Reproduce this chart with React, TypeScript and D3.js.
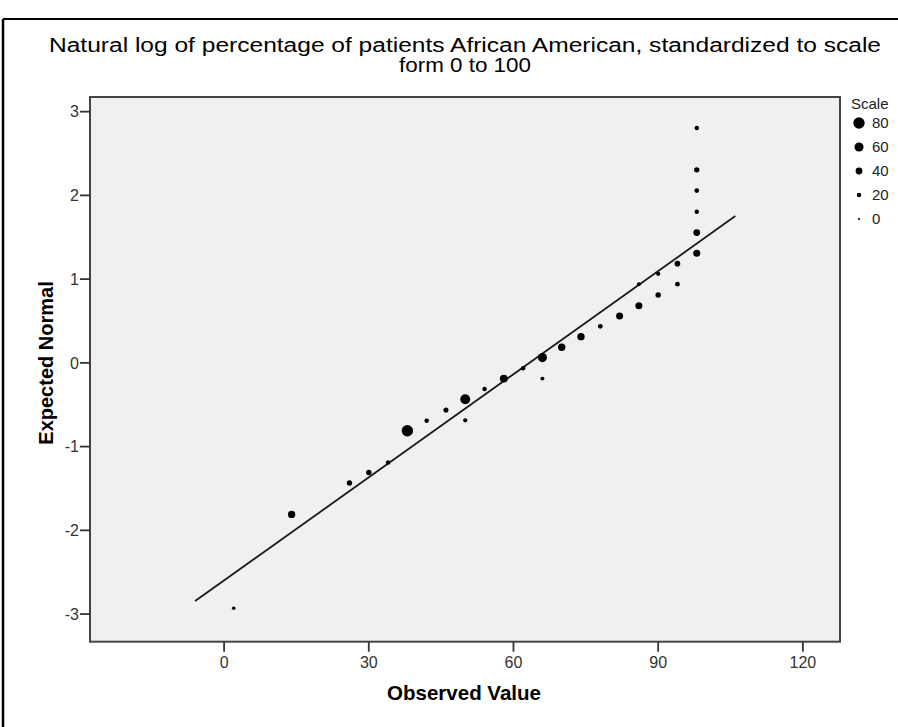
import React from "react";
import * as d3 from "d3";

// Observed values, expected normal scores and the "Scale" size of each point
const observed = [2, 14, 26, 30, 34, 38, 42, 46, 50, 50, 54, 58, 62, 66, 66, 70, 74, 78, 82, 86, 86, 90, 90, 94, 94, 98, 98, 98, 98, 98, 98];
const expected = [-2.93, -1.81, -1.435, -1.31, -1.19, -0.81, -0.69, -0.563, -0.435, -0.686, -0.312, -0.188, -0.065, 0.063, -0.188, 0.186, 0.313, 0.437, 0.56, 0.683, 0.94, 0.81, 1.064, 0.94, 1.185, 1.31, 1.556, 1.806, 2.057, 2.305, 2.806];
const scaleValue = [12, 45, 28, 28, 20, 80, 20, 25, 67, 18, 20, 50, 20, 60, 15, 45, 45, 22, 42, 42, 15, 28, 18, 22, 30, 42, 40, 20, 22, 28, 20];

// Normal reference line: z = (x - mean) / sd over the drawn extent
const refMean = 63.3;
const refSd = 24.36;
const refExtent = [-6, 106];

const xTicks = [0, 30, 60, 90, 120];
const yTicks = [-3, -2, -1, 0, 1, 2, 3];
const legendValues = [80, 60, 40, 20, 0];

const W = 898;
const H = 727;
const plot = { left: 90, right: 840, top: 97, bottom: 641.7 };
const font = "'Liberation Sans', Arial, Helvetica, sans-serif";

export default function App() {
  const x = d3.scaleLinear().domain([-27.8, 127.7]).range([plot.left, plot.right]);
  const y = d3.scaleLinear().domain([-3.33, 3.175]).range([plot.bottom, plot.top]);
  const r = d3.scaleLinear().domain([0, 80]).range([1.1, 5.7]);

  const points = observed.map((o, i) => ({ o, e: expected[i], s: scaleValue[i] }));
  const line = d3
    .line<number>()
    .x((v) => x(v))
    .y((v) => y((v - refMean) / refSd));

  return (
    <svg
      width={W}
      height={H}
      viewBox={`0 0 ${W} ${H}`}
      style={{ position: "absolute", left: 0, top: 0, background: "#fff" }}
      fontFamily={font}
    >
      {/* outer frame */}
      <line x1={3} y1={19} x2={3} y2={H} stroke="#000" strokeWidth={2.5} />
      <line x1={3} y1={19} x2={W} y2={19} stroke="#000" strokeWidth={2} />

      {/* title */}
      <text x={465} y={52} textAnchor="middle" fontSize={20} fill="#000" textLength={832} lengthAdjust="spacingAndGlyphs">
        Natural log of percentage of patients African American, standardized to scale
      </text>
      <text x={465} y={72} textAnchor="middle" fontSize={20} fill="#000" textLength={132} lengthAdjust="spacingAndGlyphs">
        form 0 to 100
      </text>

      {/* plot background */}
      <rect
        x={plot.left}
        y={plot.top}
        width={plot.right - plot.left}
        height={plot.bottom - plot.top}
        fill="#f0f0f0"
        stroke="#444"
        strokeWidth={2}
      />

      {/* reference line */}
      <path d={line(refExtent) ?? ""} fill="none" stroke="#1a1a1a" strokeWidth={1.8} />

      {/* points */}
      {points.map((p, i) => (
        <circle key={i} cx={x(p.o)} cy={y(p.e)} r={r(p.s)} fill="#000" />
      ))}

      {/* y axis */}
      {yTicks.map((t) => (
        <g key={`y${t}`}>
          <line x1={plot.left - 10} x2={plot.left} y1={y(t)} y2={y(t)} stroke="#333" strokeWidth={1.8} />
          <text x={plot.left - 11} y={y(t)} dy="0.36em" textAnchor="end" fontSize={16} fill="#333">
            {t}
          </text>
        </g>
      ))}

      {/* x axis */}
      {xTicks.map((t) => (
        <g key={`x${t}`}>
          <line x1={x(t)} x2={x(t)} y1={plot.bottom} y2={plot.bottom + 10} stroke="#333" strokeWidth={1.8} />
          <text x={x(t)} y={668} textAnchor="middle" fontSize={16} fill="#333">
            {t}
          </text>
        </g>
      ))}

      {/* axis titles */}
      <text x={464} y={700} textAnchor="middle" fontSize={20.5} fontWeight="bold" fill="#000">
        Observed Value
      </text>
      <text
        transform={`translate(53, ${363}) rotate(-90)`}
        textAnchor="middle"
        fontSize={20}
        fontWeight="bold"
        fill="#000"
      >
        Expected Normal
      </text>

      {/* size legend */}
      <text x={851} y={109} fontSize={15} fill="#222">
        Scale
      </text>
      {legendValues.map((v, i) => (
        <g key={`l${v}`}>
          <circle cx={859} cy={123 + i * 24} r={r(v)} fill="#000" />
          <text x={872} y={123 + i * 24} dy="0.36em" fontSize={15} fill="#222">
            {v}
          </text>
        </g>
      ))}
    </svg>
  );
}
